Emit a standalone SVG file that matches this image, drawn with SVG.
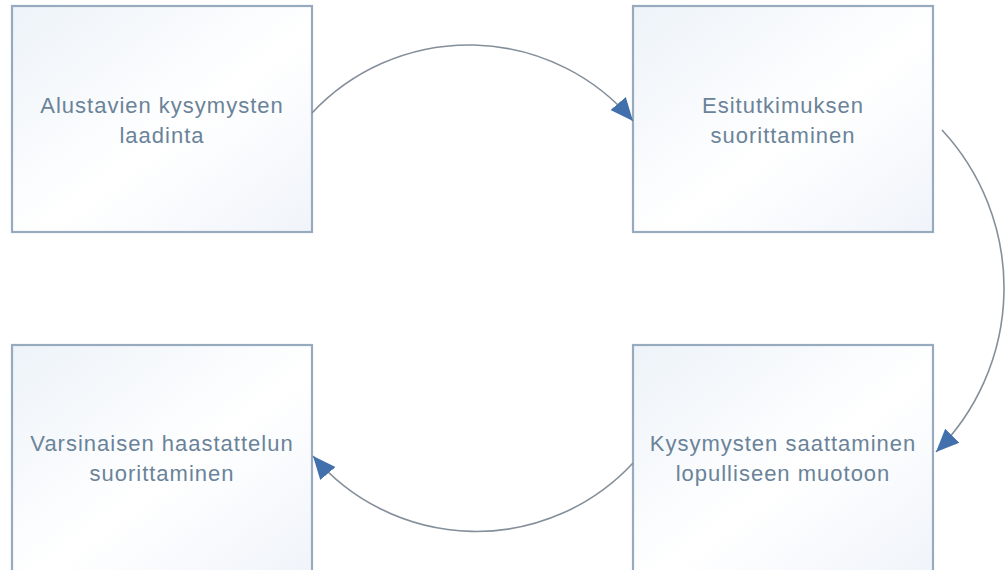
<svg xmlns="http://www.w3.org/2000/svg" width="1005" height="570" viewBox="0 0 1005 570">
  <defs>
    <linearGradient id="boxfill" x1="0" y1="0" x2="1" y2="1">
      <stop offset="0" stop-color="#edf3f9"/>
      <stop offset="0.55" stop-color="#ffffff"/>
      <stop offset="1" stop-color="#f0f4fa"/>
    </linearGradient>
    <marker id="arrow" markerUnits="userSpaceOnUse" markerWidth="26" markerHeight="22" viewBox="0 0 26 22" refX="23" refY="11" orient="auto">
      <path d="M0,1 L23,11 L0,21 Z" fill="#4270ad"/>
    </marker>
    <style>
      .box { fill: url(#boxfill); stroke: #98aabd; stroke-width: 2.2; }
      .lbl { font-family: "Liberation Sans", Arial, sans-serif; font-size: 22px; letter-spacing: 1px; fill: #6a8399; text-anchor: middle; }
      .conn { fill: none; stroke: #858f99; stroke-width: 1.6; marker-end: url(#arrow); }
    </style>
  </defs>
  <rect width="1005" height="570" fill="#ffffff"/>

  <g id="node1">
    <rect class="box" x="12" y="6" width="300" height="226"/>
    <text class="lbl" x="162" y="113">Alustavien kysymysten</text>
    <text class="lbl" x="162" y="143">laadinta</text>
  </g>
  <g id="node2">
    <rect class="box" x="633" y="6" width="300" height="226"/>
    <text class="lbl" x="783" y="113">Esitutkimuksen</text>
    <text class="lbl" x="783" y="143">suorittaminen</text>
  </g>
  <g id="node3">
    <rect class="box" x="633" y="345" width="300" height="228"/>
    <text class="lbl" x="783" y="451">Kysymysten saattaminen</text>
    <text class="lbl" x="783" y="481">lopulliseen muotoon</text>
  </g>
  <g id="node4">
    <rect class="box" x="12" y="345" width="300" height="228"/>
    <text class="lbl" x="162" y="451">Varsinaisen haastattelun</text>
    <text class="lbl" x="162" y="481">suorittaminen</text>
  </g>

  <g id="connectors">
    <path class="conn" d="M312,113 A215,215 0 0 1 633,121"/>
    <path class="conn" d="M942,130 A232,232 0 0 1 936,452"/>
    <path class="conn" d="M633,463 A214,214 0 0 1 313,456"/>
  </g>
</svg>
